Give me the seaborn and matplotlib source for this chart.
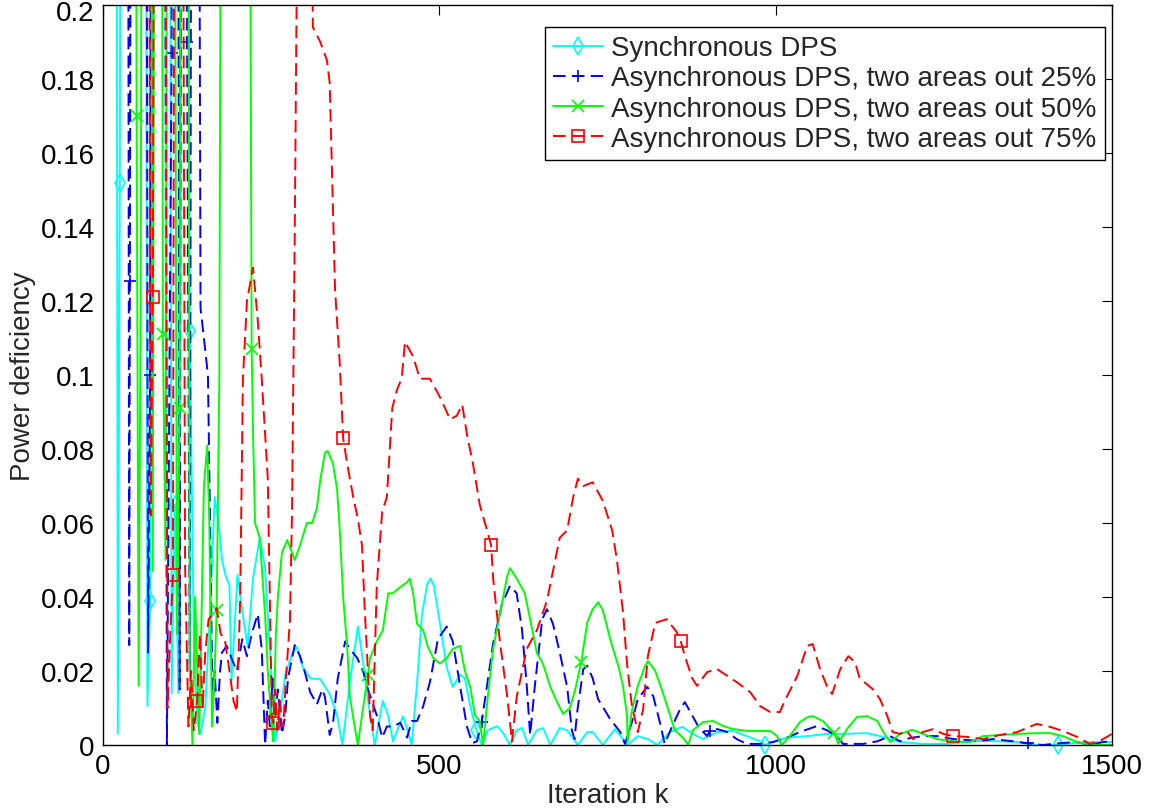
import matplotlib
matplotlib.use('Agg')
import matplotlib.pyplot as plt
import matplotlib.transforms as mtransforms
import pandas as pd
import seaborn as sns
from matplotlib.lines import Line2D

# ---------------- data ----------------
series_names = ['Synchronous DPS',
                'Asynchronous DPS, two areas out 25%',
                'Asynchronous DPS, two areas out 50%',
                'Asynchronous DPS, two areas out 75%']

cyan_x = [0, 19, 22, 25, 28, 62, 66, 70, 74, 98, 102, 107, 112, 118, 124, 129, 135, 140, 145, 152,
          160, 166, 172, 177, 182, 188, 191, 195, 200, 208, 215, 223, 233, 241, 245, 251, 256, 263, 271, 281,
          288, 297, 308, 323, 337, 348, 356, 367, 379, 387, 397, 404, 412, 416, 424, 431, 439, 446, 453, 459,
          467, 474, 482, 487, 492, 501, 511, 520, 531, 538, 546, 555, 563, 572, 586, 595, 605, 615, 623, 632,
          645, 654, 665, 679, 690, 706, 720, 728, 743, 761, 773, 780, 795, 810, 824, 843, 861, 877, 892, 913,
          937, 957, 977, 984, 996, 1017, 1047, 1076, 1100, 1136, 1155, 1185, 1219, 1255, 1289, 1308, 1333, 1359, 1383, 1408,
          1420, 1440, 1467, 1500]
cyan_y = [0.5, 0.45, 0.003, 0.152, 0.45, 0.45, 0.0105, 0.039, 0.45, 0.45, 0.014, 0.065, 0.014, 0.45, 0.45, 0.112, 0.03, 0.006, 0.003, 0.01,
          0.04, 0.067, 0.06, 0.05, 0.046, 0.043, 0.017, 0.03, 0.046, 0.035, 0.0265, 0.045, 0.056, 0.048, 0.035, 0.017, 0.001, 0.008, 0.019, 0.0246,
          0.0265, 0.021, 0.018, 0.0178, 0.0138, 0.008, 0.0, 0.017, 0.032, 0.022, 0.008, 0.0, 0.008, 0.0119, 0.008, 0.001, 0.0046, 0.0078, 0.0038, 0.0,
          0.017, 0.035, 0.0435, 0.045, 0.043, 0.0327, 0.021, 0.0157, 0.019, 0.018, 0.0105, 0.004, 0.0, 0.004, 0.0051, 0.0032, 0.0, 0.004, 0.0046, 0.0,
          0.004, 0.0046, 0.0, 0.0046, 0.004, 0.0, 0.0035, 0.0035, 0.0, 0.0043, 0.0016, 0.0, 0.0024, 0.0016, 0.0, 0.0035, 0.0049, 0.003, 0.0016, 0.0035,
          0.0038, 0.0024, 0.001, 0.0, 0.0008, 0.002, 0.0024, 0.003, 0.003, 0.0032, 0.0024, 0.0008, 0.0003, 0.0003, 0.001, 0.0011, 0.001, 0.0008, 0.0, 0.0,
          0.0, 0.0005, 0.0008, 0.0008]
cyan_marks = [25, 70, 107, 129, 555, 984, 1420]

blue_x = [0, 36, 39, 40, 43, 63, 67, 70, 73, 90, 95, 102, 104, 110, 114, 118, 122, 125, 129, 133,
          140, 145, 150, 156, 160, 163, 166, 170, 174, 177, 184, 192, 199, 207, 214, 221, 230, 236, 239, 241,
          245, 248, 252, 256, 260, 266, 271, 275, 285, 293, 300, 308, 318, 326, 330, 337, 342, 349, 360, 367,
          378, 387, 394, 407, 415, 422, 431, 442, 452, 459, 467, 476, 486, 498, 511, 520, 531, 541, 549, 556,
          563, 580, 593, 605, 615, 623, 630, 635, 642, 653, 660, 669, 679, 690, 697, 701, 705, 714, 720, 728,
          736, 754, 769, 776, 786, 795, 809, 818, 828, 835, 846, 858, 865, 876, 885, 898, 902, 913, 928, 942,
          957, 977, 996, 1017, 1036, 1061, 1076, 1091, 1100, 1115, 1130, 1151, 1170, 1185, 1200, 1219, 1240, 1264, 1304, 1323,
          1353, 1375, 1397, 1423, 1448, 1467, 1487, 1500]
blue_y = [0.5, 0.45, 0.027, 0.1255, 0.45, 0.45, 0.025, 0.1, 0.45, 0.45, 0.0, 0.187, 0.45, 0.45, 0.015, 0.45, 0.45, 0.19, 0.02, 0.45,
          0.45, 0.118, 0.11, 0.1, 0.05, 0.01, 0.02, 0.006, 0.02, 0.025, 0.0268, 0.023, 0.02, 0.0286, 0.024, 0.03, 0.0354, 0.026, 0.01, 0.0,
          0.012, 0.005, 0.018, 0.008, 0.015, 0.003, 0.008, 0.018, 0.027, 0.024, 0.0197, 0.0143, 0.011, 0.015, 0.013, 0.0027, 0.006, 0.018, 0.028, 0.026,
          0.0235, 0.0197, 0.015, 0.008, 0.002, 0.005, 0.005, 0.006, 0.002, 0.0065, 0.0065, 0.0105, 0.017, 0.0287, 0.032, 0.028, 0.0157, 0.005, 0.0005, 0.001,
          0.0062, 0.0275, 0.038, 0.043, 0.041, 0.031, 0.016, 0.0027, 0.016, 0.034, 0.0367, 0.0327, 0.025, 0.0157, 0.004, 0.0016, 0.009, 0.0205, 0.0214, 0.018,
          0.0124, 0.007, 0.0035, 0.0003, 0.006, 0.0124, 0.0157, 0.0132, 0.006, 0.0003, 0.005, 0.0097, 0.0116, 0.008, 0.005, 0.0024, 0.0038, 0.0043, 0.0035, 0.0016,
          0.0003, 0.0003, 0.0008, 0.002, 0.0035, 0.0051, 0.004, 0.0024, 0.0003, 0.0003, 0.0003, 0.001, 0.0024, 0.001, 0.0019, 0.0024, 0.0024, 0.0016, 0.0011, 0.0016,
          0.001, 0.0005, 0.0, 0.0005, 0.0008, 0.0, 0.0008, 0.001]
blue_marks = [40, 70, 102, 125, 563, 902, 1375]

green_x = [0, 46, 50, 53, 56, 60, 70, 74, 78, 86, 89, 93, 97, 104, 110, 114, 118, 125, 129, 133,
           137, 143, 146, 150, 155, 158, 162, 166, 169, 173, 178, 215, 221, 223, 226, 233, 241, 245, 251, 253,
           257, 260, 266, 274, 281, 285, 293, 303, 311, 318, 323, 330, 334, 342, 348, 352, 357, 363, 367, 375,
           379, 385, 394, 397, 407, 416, 424, 431, 442, 452, 456, 461, 467, 476, 483, 491, 501, 511, 520, 531,
           538, 546, 553, 560, 565, 572, 580, 590, 601, 605, 615, 627, 635, 645, 654, 665, 675, 684, 694, 702,
           711, 720, 728, 736, 743, 754, 766, 773, 779, 780, 786, 795, 806, 810, 821, 832, 843, 850, 862, 870,
           877, 892, 907, 922, 937, 957, 977, 992, 1002, 1009, 1021, 1036, 1048, 1055, 1070, 1087, 1093, 1106, 1121, 1136,
           1151, 1160, 1170, 1185, 1203, 1219, 1240, 1264, 1289, 1308, 1333, 1359, 1388, 1408, 1427, 1448, 1467, 1500]
green_y = [0.5, 0.5, 0.17, 0.016, 0.12, 0.45, 0.45, 0.047, 0.45, 0.45, 0.111, 0.05, 0.45, 0.45, 0.03, 0.091, 0.45, 0.45, 0.02, 0.0,
           0.04, 0.003, 0.03, 0.07, 0.081, 0.06, 0.005, 0.02, 0.0365, 0.1, 0.45, 0.45, 0.107, 0.085, 0.06, 0.056, 0.035, 0.02, 0.005, 0.001,
           0.03, 0.04, 0.052, 0.0554, 0.052, 0.05, 0.054, 0.06, 0.06, 0.064, 0.0716, 0.079, 0.0795, 0.076, 0.069, 0.058, 0.04, 0.0265, 0.013, 0.004,
           0.0, 0.008, 0.019, 0.0235, 0.028, 0.031, 0.041, 0.041, 0.0427, 0.044, 0.045, 0.041, 0.0327, 0.031, 0.0265, 0.0235, 0.022, 0.0235, 0.026, 0.0268,
           0.020, 0.0157, 0.008, 0.0065, 0.0, 0.013, 0.026, 0.0354, 0.0457, 0.0478, 0.045, 0.041, 0.034, 0.0249, 0.022, 0.0157, 0.0116, 0.0084, 0.010, 0.015,
           0.0224, 0.0332, 0.0367, 0.0386, 0.0365, 0.0286, 0.0214, 0.016, 0.008, 0.0008, 0.009, 0.016, 0.0214, 0.0227, 0.020, 0.0143, 0.008, 0.004, 0.002, 0.0,
           0.004, 0.0062, 0.0065, 0.0051, 0.0043, 0.0038, 0.0038, 0.0038, 0.0024, 0.0, 0.0024, 0.0062, 0.0076, 0.0078, 0.0065, 0.0032, 0.0003, 0.0043, 0.0076, 0.0078,
           0.0065, 0.0035, 0.0008, 0.003, 0.0041, 0.003, 0.0016, 0.001, 0.0008, 0.0024, 0.0027, 0.003, 0.0032, 0.0032, 0.0024, 0.0008, 0.0, 0.0]
green_marks = [50, 89, 114, 169, 221, 394, 711, 1087]

red_x = [0, 65, 71, 74, 79, 90, 96, 100, 104, 108, 116, 122, 127, 131, 135, 140, 144, 148, 152, 157,
         162, 169, 175, 181, 188, 194, 199, 204, 208, 214, 223, 230, 236, 245, 251, 253, 256, 259, 263, 266,
         268, 272, 278, 281, 285, 290, 300, 309, 312, 323, 333, 337, 340, 345, 352, 357, 363, 372, 379, 385,
         389, 392, 397, 401, 407, 415, 422, 430, 437, 444, 449, 461, 471, 486, 501, 516, 526, 534, 541, 550,
         560, 571, 577, 580, 590, 601, 608, 615, 630, 645, 660, 679, 690, 699, 706, 714, 728, 743, 757, 764,
         773, 779, 786, 795, 803, 810, 821, 838, 853, 859, 865, 876, 883, 898, 913, 928, 942, 962, 977, 992,
         1006, 1017, 1032, 1047, 1055, 1066, 1076, 1084, 1096, 1108, 1118, 1125, 1145, 1155, 1166, 1174, 1185, 1195, 1204, 1219,
         1234, 1249, 1264, 1284, 1308, 1333, 1359, 1388, 1408, 1427, 1448, 1467, 1482, 1500]
red_y = [0.5, 0.5, 0.062, 0.121, 0.45, 0.45, 0.01, 0.03, 0.046, 0.45, 0.45, 0.049, 0.005, 0.02, 0.004, 0.012, 0.03, 0.01, 0.025, 0.034,
         0.035, 0.037, 0.03, 0.0286, 0.02, 0.012, 0.009, 0.04, 0.099, 0.12, 0.129, 0.115, 0.099, 0.072, 0.008, 0.006, 0.015, 0.004, 0.012, 0.005,
         0.005, 0.018, 0.034, 0.063, 0.137, 0.25, 0.3, 0.25, 0.194, 0.19, 0.185, 0.179, 0.158, 0.123, 0.103, 0.083, 0.076, 0.067, 0.061, 0.054,
         0.037, 0.0265, 0.008, 0.004, 0.043, 0.063, 0.067, 0.091, 0.096, 0.099, 0.109, 0.105, 0.099, 0.099, 0.094, 0.088, 0.089, 0.092, 0.084, 0.076,
         0.065, 0.058, 0.054, 0.045, 0.028, 0.013, 0.001, 0.013, 0.026, 0.031, 0.039, 0.056, 0.058, 0.067, 0.072, 0.070, 0.071, 0.066, 0.058, 0.050,
         0.036, 0.022, 0.011, 0.0035, 0.0097, 0.024, 0.033, 0.034, 0.0305, 0.028, 0.024, 0.018, 0.016, 0.0197, 0.0205, 0.0187, 0.017, 0.0143, 0.0105, 0.0089,
         0.0089, 0.0132, 0.0186, 0.0268, 0.0273, 0.0205, 0.016, 0.0138, 0.0205, 0.024, 0.0224, 0.018, 0.015, 0.0124, 0.0078, 0.0035, 0.003, 0.0038, 0.0016, 0.0035,
         0.0043, 0.003, 0.0024, 0.0022, 0.0016, 0.0027, 0.0035, 0.0057, 0.0049, 0.0038, 0.0022, 0.0003, 0.0011, 0.003]
red_marks = [74, 104, 140, 253, 357, 577, 859, 1264]

xtick_vals = [0, 500, 1000, 1500]
xtick_labels = ['0', '500', '1000', '1500']
ytick_vals = [0, 0.02, 0.04, 0.06, 0.08, 0.1, 0.12, 0.14, 0.16, 0.18, 0.2]
ytick_labels = ['0', '0.02', '0.04', '0.06', '0.08', '0.1', '0.12', '0.14', '0.16', '0.18', '0.2']

# ---------------- styling ----------------
sns.set_style('white')
plt.rcParams['font.family'] = ['Liberation Sans', 'DejaVu Sans']
plt.rcParams['font.size'] = 20

fig = plt.figure(figsize=(11.6, 8.12), dpi=100)
ax = fig.add_axes([103 / 1160, 66 / 812, 1009 / 1160, 740 / 812])

LW = 1.4
dash = (0, (6.5, 3.2))
specs = [
    (cyan_x, cyan_y, cyan_marks, '#00FFFF', '-', 'd'),
    (blue_x, blue_y, blue_marks, '#0000FF', dash, '+'),
    (green_x, green_y, green_marks, '#00FF00', '-', 'x'),
    (red_x, red_y, red_marks, '#FF0000', dash, 's'),
]

handles = []
for xs, ys, marks, color, ls, mk in specs:
    df = pd.DataFrame({'k': xs, 'v': ys})
    sns.lineplot(data=df, x='k', y='v', ax=ax, color=color, linestyle=ls,
                 linewidth=LW, sort=False, estimator=None, legend=False)
    idx = [xs.index(m) for m in marks]
    ax.plot([xs[i] for i in idx], [ys[i] for i in idx], linestyle='none',
            marker=mk, mfc='none', mec=color, ms=9, mew=1.2, clip_on=False)
    handles.append(Line2D([], [], color=color, linestyle=ls, linewidth=LW,
                          marker=mk, mfc='none', mec=color, ms=9, mew=1.2))

ax.set_xlim(0, 1500)
ax.set_ylim(0, 0.2)
ax.set_xticks(xtick_vals)
ax.set_xticklabels(xtick_labels)
ax.set_yticks(ytick_vals)
ax.set_yticklabels(ytick_labels)
ax.tick_params(direction='in', length=7, width=0.8, top=True, right=True,
               labelsize=20, colors='black', pad=6)
for s in ax.spines.values():
    s.set_visible(True)
    s.set_color('black')
    s.set_linewidth(1.0)

# keep the top tick label inside the picture
top_lab = ax.get_yticklabels()[-1]
top_lab.set_transform(top_lab.get_transform() +
                      mtransforms.ScaledTranslation(0, -5 / 100, fig.dpi_scale_trans))

ax.set_xlabel('Iteration k', fontsize=20, labelpad=2)
ax.set_ylabel('Power deficiency', fontsize=20, labelpad=3)

leg = ax.legend(handles, series_names, loc='upper right',
                bbox_to_anchor=(1105 / 1160, 1 - 28 / 812), bbox_transform=fig.transFigure,
                frameon=True, fancybox=False, edgecolor='black', framealpha=1,
                borderaxespad=0, handlelength=1.8, handletextpad=0.3,
                borderpad=0.3, labelspacing=0.15, fontsize=20)
leg.get_frame().set_linewidth(1.0)

fig.savefig('out.png', dpi=100)
